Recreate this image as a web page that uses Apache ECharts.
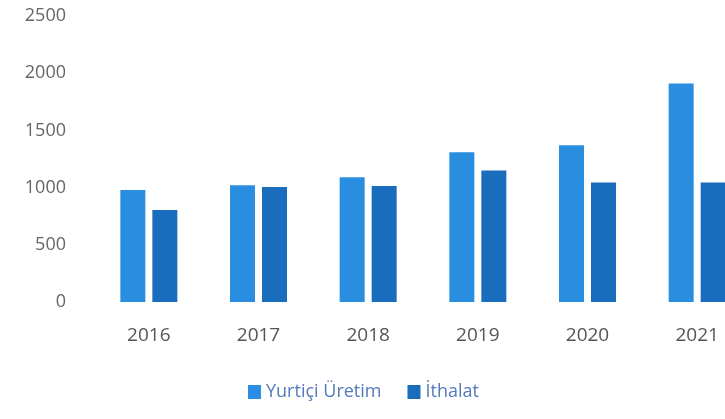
<!DOCTYPE html>
<html>
<head>
<meta charset="utf-8">
<script src="https://cdn.jsdelivr.net/npm/echarts@6/dist/echarts.min.js"></script>
<style>
  html, body { margin: 0; padding: 0; background: #fff; }
  #chart { width: 725px; height: 419px; }
</style>
</head>
<body>
<div id="chart"></div>
<script>
const years = ['2016', '2017', '2018', '2019', '2020', '2021']
const yurtici = [980, 1020, 1090, 1310, 1370, 1910]
const ithalat = [805, 1005, 1015, 1150, 1045, 1045]

const chart = echarts.init(document.getElementById('chart'))
const font = 'Open Sans'
chart.setOption({
  animation: false,
  grid: { left: 94, width: 658, top: 16, bottom: 117, outerBoundsMode: 'none' },
  legend: {
    bottom: 13,
    left: 243,
    itemWidth: 13, itemHeight: 14, itemGap: 26,
    icon: 'rect',
    textStyle: { fontFamily: font, fontSize: 18, color: '#5479bd' },
    data: ['Yurtiçi Üretim', 'İthalat']
  },
  xAxis: {
    type: 'category', data: years,
    axisLine: { show: false }, axisTick: { show: false },
    axisLabel: { fontFamily: font, fontSize: 19, color: '#555', margin: 24 }
  },
  yAxis: {
    type: 'value', min: 0, max: 2500, interval: 500,
    splitLine: { show: false },
    axisLabel: { fontFamily: font, fontSize: 18, color: '#666', margin: 28,
      formatter: v => String(v) }
  },
  series: [
    { name: 'Yurtiçi Üretim', type: 'bar', data: yurtici, barWidth: 25, barGap: '28%',
      itemStyle: { color: '#2a8ee0' } },
    { name: 'İthalat', type: 'bar', data: ithalat, barWidth: 25,
      itemStyle: { color: '#1a6cbc' } }
  ]
})
</script>
</body>
</html>
